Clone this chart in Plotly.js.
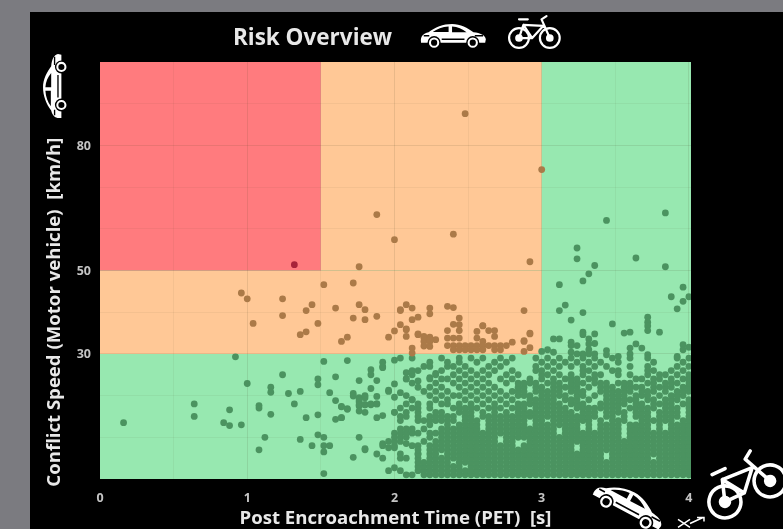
<!DOCTYPE html>
<html><head><meta charset="utf-8">
<script src="https://cdn.plot.ly/plotly-3.0.1.min.js"></script>
<style>html,body{margin:0;padding:0;background:#7b7b80;width:783px;height:529px;overflow:hidden}
#chart{position:absolute;left:30px;top:12px;width:753px;height:517px;filter:blur(0.6px)}</style>
</head><body><div id="chart"></div>
<script>
const chartTitle = "Risk Overview";
const xTitle = "Post Encroachment Time (PET)&nbsp;&nbsp;[s]";
const yTitle = "Conflict Speed (Motor vehicle)&nbsp;&nbsp;[km/h]";
const xTicks = [0,1,2,3,4];
const yTicks = [30,50,80];

const redPet = [1.32];
const redSpeed = [51.4];

const orangePet = [0.96,1.00,1.04,1.24,1.24,1.36,1.40,1.40,1.44,1.48,1.52,1.60,1.64,1.68,1.72,1.72,1.76,1.80,1.80,1.88,1.88,1.96,2.00,2.04,2.04,2.08,2.08,2.12,2.12,2.16,2.24,2.24,2.36,2.40,2.44,2.44,2.40,2.60,2.36,2.44,2.08,2.08,2.16,2.20,2.24,2.28,2.20,2.24,2.20,2.24,2.12,2.12,2.48,2.00,2.40,1.76,2.92,2.88,2.92,2.88,2.92,2.88,3.00,2.68,2.60,2.56,2.56,2.64,2.68,2.60,2.44,2.40,2.36,2.36,2.40,2.44,2.48,2.52,2.56,2.60,2.64,2.68,2.72,2.40,2.44,2.48,2.52,2.56,2.60,2.68,2.72,2.76,2.80,2.88,2.92,2.16,2.20,2.24,2.04];
const orangeSpeed = [44.6,43.2,37.3,43.2,39.2,34.6,35.3,40.4,41.8,37.3,46.6,41,33,34,47,38.6,41.8,40.6,38.2,39,63.4,34,35.5,37,40.4,41.8,36,41,38.2,38.8,41,39.6,41.4,41.1,38.6,37,37.1,36.7,35.6,35.6,35.8,34.2,34.6,34.2,34,33.4,33,33,31.9,31.8,31.4,30.2,87.6,57.4,58.7,50.9,52.1,40.4,34.8,33,31.5,30.6,74.2,35.6,36.8,35.4,33.8,35.6,34.2,33,33.8,33.8,33.8,32,32,32,32,32,32,32,32,32,32,31,31,31,31,31,31,31,31,32,32.8,33.2,35,34.8,33.9,33.4,40.6];

const greenPet = [0.16,0.64,0.64,0.84,0.88,0.96,0.88,0.92,1.00,1.08,1.08,1.16,1.12,1.08,1.16,1.16,1.24,1.28,1.36,1.32,1.36,1.40,1.44,1.48,1.48,1.48,1.48,1.52,1.52,1.52,1.56,1.52,1.52,1.56,1.60,1.60,1.60,1.64,1.64,1.68,1.68,1.72,1.72,1.76,1.76,1.76,1.76,1.76,1.80,1.80,1.80,1.80,1.84,1.84,1.84,1.84,1.88,1.88,1.88,1.88,1.92,1.92,1.92,1.92,1.96,1.64,1.68,1.64,1.72,1.76,1.76,1.80,1.76,1.80,1.84,1.88,1.80,1.88,1.92,1.92,1.96,2.00,2.00,2.04,2.08,1.96,2.00,1.92,1.96,2.00,1.96,2.00,2.00,2.00,2.00,2.08,2.12,2.12,2.16,2.04,2.08,2.12,2.24,2.28,2.00,2.00,2.08,2.16,2.16,3.24,3.24,3.36,3.32,3.28,3.12,3.16,3.12,3.28,3.20,3.28,3.28,3.36,3.32,3.08,3.12,3.20,3.20,3.24,3.36,3.32,3.32,3.20,3.24,3.04,3.00,3.08,3.44,3.44,3.48,3.64,3.84,3.60,3.56,3.80,3.72,3.72,3.72,3.72,3.96,3.88,4.00,3.96,3.92,3.64,3.60,3.60,3.68,3.72,3.96,3.96,4.00,3.52,3.92,3.44,3.84,3.28,3.32,3.36];
const greenSpeed = [13.5,18,15,13.5,12.8,13,16.6,29.3,22.9,17,7,15.5,10,17.6,22,20.8,25,20.5,21,18,9.5,14.7,8,15.4,10.6,24,22.6,28.2,10,8,8,6.5,1.3,20.7,24.5,18.8,14.3,14.7,17.4,16.9,28.4,20.5,5.2,23.6,10,19.5,18.5,17.5,19.5,17.8,16,7,26.2,25,21.7,17.8,23.6,19.8,18,14.7,15.2,28,26.7,8.5,21,17.3,16.7,14.7,19.9,19,17.8,20,16.3,17.8,18,18,7.3,6,5,8,7.5,7.5,22.8,20.7,24,21.3,28.5,27,2,2.7,9,8,9,19.6,16,25.5,25,19,23.5,12,11,11,24.3,25.3,11,10,8.5,8,6,55.4,52.8,51.2,49.2,47.5,46.6,41.7,40.4,39.9,38.1,35.2,34.6,34.8,33.6,33.6,33.6,32.8,32,32,32.5,32.4,31,30.4,30,31,30.6,30.4,30.8,29.8,37.2,53,50.9,35.2,35,35.2,38.8,37.6,36.7,35.6,46,43.7,43.7,42.6,40.8,32.4,31.4,30,31.4,29.8,32.2,31,31.6,29.4,29.4,62,63.8,30,30,30];

const denseSpeeds = [1,2,3,4,5,6,7,8,9,10,11,12,13,14,15,16,17,18,19,20,21,22,23,24,25,26,27,28,29];
const densePets = [
[2.08,2.12,2.20,2.24,2.28,2.32,2.36,2.40,2.44,2.48,2.52,2.56,2.60,2.64,2.68,2.72,2.76,2.80,2.84,2.88,2.92,2.96,3.00,3.04,3.08,3.12,3.16,3.20,3.24,3.28,3.32,3.36,3.40,3.44,3.48,3.52,3.56,3.60,3.64,3.68,3.72,3.76,3.80,3.84,3.88,3.92,3.96,4.00],
[2.04,2.16,2.20,2.24,2.28,2.32,2.36,2.40,2.44,2.48,2.52,2.56,2.60,2.64,2.68,2.72,2.76,2.80,2.84,2.88,2.92,2.96,3.00,3.04,3.08,3.12,3.16,3.20,3.24,3.28,3.32,3.36,3.40,3.44,3.48,3.52,3.56,3.60,3.64,3.68,3.72,3.76,3.80,3.84,3.88,3.92,3.96,4.00],
[2.16,2.20,2.24,2.28,2.32,2.36,2.40,2.44,2.52,2.56,2.60,2.64,2.68,2.72,2.76,2.80,2.84,2.88,2.92,2.96,3.00,3.04,3.08,3.12,3.16,3.20,3.24,3.28,3.32,3.36,3.40,3.44,3.48,3.52,3.56,3.60,3.64,3.68,3.72,3.76,3.80,3.84,3.88,3.92,3.96,4.00],
[2.16,2.20,2.24,2.28,2.32,2.36,2.44,2.48,2.52,2.56,2.60,2.64,2.68,2.72,2.76,2.80,2.84,2.88,2.92,2.96,3.00,3.04,3.08,3.12,3.16,3.20,3.24,3.28,3.32,3.36,3.40,3.44,3.48,3.52,3.56,3.60,3.64,3.68,3.72,3.76,3.80,3.84,3.88,3.92,3.96,4.00],
[2.04,2.08,2.16,2.24,2.28,2.32,2.36,2.40,2.44,2.48,2.52,2.56,2.60,2.64,2.68,2.72,2.76,2.80,2.84,2.88,2.92,2.96,3.00,3.04,3.08,3.12,3.16,3.20,3.24,3.28,3.32,3.36,3.40,3.48,3.52,3.56,3.60,3.64,3.68,3.72,3.80,3.84,3.88,3.92,3.96,4.00],
[2.04,2.16,2.24,2.28,2.36,2.40,2.44,2.48,2.52,2.56,2.60,2.64,2.68,2.72,2.76,2.80,2.84,2.88,2.92,2.96,3.00,3.04,3.08,3.12,3.16,3.20,3.24,3.28,3.32,3.36,3.40,3.48,3.52,3.56,3.60,3.64,3.68,3.72,3.76,3.80,3.84,3.88,3.92,3.96,4.00],
[2.16,2.24,2.28,2.32,2.36,2.40,2.44,2.48,2.52,2.56,2.60,2.64,2.68,2.72,2.76,2.80,2.84,2.88,2.92,2.96,3.00,3.04,3.08,3.12,3.16,3.20,3.28,3.32,3.36,3.40,3.44,3.48,3.52,3.56,3.60,3.64,3.68,3.72,3.76,3.80,3.84,3.88,3.92,3.96,4.00],
[2.12,2.24,2.28,2.32,2.36,2.40,2.44,2.48,2.52,2.56,2.60,2.64,2.68,2.72,2.76,2.80,2.88,2.92,2.96,3.00,3.04,3.08,3.12,3.16,3.20,3.28,3.32,3.36,3.40,3.44,3.48,3.52,3.56,3.60,3.64,3.68,3.72,3.76,3.80,3.84,3.88,3.92,3.96,4.00],
[2.04,2.20,2.28,2.32,2.36,2.40,2.44,2.48,2.52,2.56,2.60,2.64,2.68,2.76,2.80,2.92,2.96,3.00,3.04,3.08,3.12,3.16,3.20,3.24,3.28,3.32,3.36,3.40,3.44,3.48,3.52,3.56,3.60,3.64,3.68,3.72,3.76,3.80,3.84,3.88,3.92,3.96,4.00],
[2.04,2.08,2.24,2.32,2.36,2.40,2.44,2.48,2.52,2.56,2.60,2.64,2.68,2.76,2.80,2.84,2.88,2.92,2.96,3.00,3.04,3.08,3.12,3.16,3.20,3.24,3.28,3.32,3.36,3.40,3.44,3.48,3.52,3.60,3.64,3.68,3.72,3.76,3.80,3.84,3.88,3.92,3.96,4.00],
[2.04,2.08,2.16,2.24,2.28,2.32,2.36,2.40,2.44,2.48,2.52,2.56,2.60,2.64,2.68,2.72,2.76,2.80,2.84,2.88,2.92,2.96,3.00,3.04,3.08,3.16,3.20,3.24,3.28,3.32,3.36,3.40,3.44,3.48,3.52,3.60,3.64,3.68,3.72,3.76,3.80,3.84,3.88,3.92,3.96,4.00],
[2.08,2.12,2.20,2.32,2.36,2.40,2.44,2.48,2.52,2.56,2.64,2.68,2.72,2.76,2.80,2.84,2.88,2.92,2.96,3.00,3.04,3.08,3.16,3.20,3.24,3.32,3.40,3.44,3.48,3.52,3.60,3.64,3.68,3.72,3.80,3.88,3.92,3.96,4.00],
[2.24,2.36,2.44,2.48,2.52,2.56,2.64,2.68,2.72,2.76,2.80,2.84,2.88,2.96,3.00,3.04,3.08,3.12,3.16,3.20,3.24,3.32,3.40,3.44,3.48,3.52,3.60,3.64,3.68,3.72,3.80,3.88,3.92,3.96,4.00],
[2.04,2.16,2.20,2.24,2.28,2.32,2.36,2.40,2.48,2.52,2.56,2.64,2.68,2.72,2.76,2.80,2.84,2.88,2.96,3.00,3.08,3.12,3.16,3.20,3.24,3.28,3.32,3.40,3.48,3.52,3.56,3.68,3.72,3.76,3.80,3.84,3.88,3.96,4.00],
[2.04,2.08,2.16,2.24,2.28,2.32,2.36,2.40,2.48,2.52,2.60,2.64,2.68,2.72,2.76,2.80,2.84,2.88,2.92,2.96,3.00,3.04,3.08,3.12,3.16,3.20,3.24,3.28,3.32,3.36,3.44,3.48,3.56,3.64,3.68,3.72,3.80,3.84,3.88,3.92,4.00],
[2.00,2.08,2.16,2.28,2.32,2.44,2.48,2.52,2.60,2.68,2.76,2.84,2.88,2.92,2.96,3.00,3.04,3.08,3.12,3.16,3.20,3.28,3.32,3.36,3.44,3.48,3.52,3.56,3.64,3.68,3.72,3.80,3.84,3.88,3.92,4.00],
[2.04,2.12,2.16,2.24,2.40,2.44,2.48,2.52,2.56,2.64,2.68,2.72,2.80,2.84,2.88,2.96,3.00,3.04,3.08,3.12,3.16,3.24,3.28,3.32,3.36,3.40,3.44,3.48,3.52,3.60,3.64,3.68,3.72,3.76,3.84,3.88,3.92,4.00],
[2.08,2.16,2.24,2.32,2.36,2.44,2.52,2.60,2.68,2.76,2.84,2.88,2.92,2.96,3.00,3.04,3.08,3.12,3.20,3.24,3.28,3.40,3.44,3.48,3.52,3.56,3.64,3.68,3.76,3.80,3.84,3.88,3.96,4.00],
[2.12,2.28,2.36,2.48,2.56,2.64,2.72,2.80,2.92,2.96,3.00,3.04,3.08,3.16,3.20,3.24,3.32,3.44,3.48,3.52,3.56,3.60,3.64,3.72,3.76,3.84,3.88,3.92,4.00],
[2.08,2.24,2.32,2.40,2.44,2.52,2.60,2.68,2.76,2.84,2.88,2.92,3.00,3.04,3.08,3.12,3.16,3.24,3.28,3.36,3.44,3.48,3.52,3.56,3.64,3.68,3.72,3.80,3.88,3.92,3.96],
[2.20,2.28,2.36,2.48,2.56,2.64,2.72,2.80,2.84,2.88,2.96,3.00,3.04,3.08,3.12,3.20,3.24,3.28,3.40,3.44,3.48,3.52,3.56,3.60,3.68,3.72,3.76,3.84,3.92,3.96,4.00],
[2.16,2.24,2.32,2.44,2.52,2.60,2.68,2.84,2.88,2.96,3.00,3.08,3.12,3.16,3.20,3.24,3.32,3.40,3.44,3.48,3.56,3.60,3.64,3.68,3.76,3.80,3.84,3.88,3.96,4.00],
[2.12,2.28,2.40,2.48,2.56,2.64,2.76,2.84,2.88,2.92,2.96,3.04,3.08,3.12,3.20,3.24,3.28,3.36,3.40,3.44,3.52,3.56,3.60,3.72,3.76,3.84,3.88,3.92,4.00],
[2.08,2.24,2.32,2.36,2.44,2.52,2.60,2.72,2.80,2.92,3.00,3.08,3.16,3.20,3.24,3.32,3.36,3.64,3.68,3.76,3.80,3.88,3.96,4.00],
[2.28,2.40,2.48,2.56,2.64,2.76,2.84,3.00,3.04,3.12,3.20,3.28,3.36,3.40,3.52,3.60,3.72,3.80,3.84,3.92,4.00],
[2.12,2.16,2.32,2.44,2.52,2.60,2.68,2.80,2.96,3.00,3.08,3.28,3.32,3.48,3.52,3.72,3.76,3.88,3.96],
[2.20,2.24,2.36,2.40,2.48,2.64,2.72,2.96,3.04,3.12,3.20,3.28,3.36,3.44,3.60,3.72,3.92,4.00],
[2.24,2.36,2.44,2.56,2.68,2.76,3.00,3.08,3.16,3.24,3.32,3.40,3.52,3.76,3.96],
[2.04,2.12,2.32,2.44,2.52,2.60,2.72,2.80,2.96,3.04,3.12,3.20,3.28,3.36,3.48,3.60,3.72,3.92,4.00]
];

const x = [], y = [];
densePets.forEach((row, i) => row.forEach(p => { x.push(p); y.push(denseSpeeds[i]); }));
const allGreenX = greenPet.concat(x), allGreenY = greenSpeed.concat(y);

const uri = s => "data:image/svg+xml;base64," + btoa(s);
const carArt = `<path d="M3 30C2 22 6 18 14 16C23 9 35 4 48 4C60 4 71 10 79 16C89 17 96 20 97 26L96 31H3Z" fill="#fff"/>
<path d="M20 15.5C26 11 34 8 43 7.5V15.5ZM48 7.5C56 8 63 11 69 16L48 16Z" fill="#000"/>
<path d="M7 21H15M81 21H93M33 26H66" stroke="#000" stroke-width="2"/>
<circle cx="22" cy="31" r="9.5" fill="#000"/><circle cx="22" cy="31" r="6" fill="none" stroke="#fff" stroke-width="3"/>
<circle cx="78" cy="31" r="9.5" fill="#000"/><circle cx="78" cy="31" r="6" fill="none" stroke="#fff" stroke-width="3"/>`;
const bikeArt = `<g fill="none" stroke="#fff" stroke-linecap="round" stroke-linejoin="round">
<circle cx="22" cy="48" r="18" stroke-width="4"/><circle cx="78" cy="48" r="18" stroke-width="4"/>
<path d="M22 48L46 48L66 26L30 24ZM46 48L30 24M78 48L63 14L72 8M22 14H38" stroke-width="4"/></g>
<circle cx="22" cy="48" r="7" fill="#fff"/><circle cx="78" cy="48" r="7" fill="#fff"/>`;
const carSvg = rot => uri(`<svg xmlns="http://www.w3.org/2000/svg" viewBox="-60 -60 220 160"><g transform="rotate(${rot} 50 20)">${carArt}</g></svg>`);
const bikeSvg = rot => uri(`<svg xmlns="http://www.w3.org/2000/svg" viewBox="-30 -40 160 160"><g transform="rotate(${rot} 50 40)">${bikeArt}</g></svg>`);
const crashSvg = uri(`<svg xmlns="http://www.w3.org/2000/svg" viewBox="0 0 30 14"><path d="M2 4L14 12M2 12L14 4M14 8L27 2M21 2H28V6" fill="none" stroke="#fff" stroke-width="1.5"/></svg>`);
const px = v => (v-100)/591, py = v => (479.5-v)/417.5;
const icon = (source,l,t,w,h) => ({source,xref:"paper",yref:"paper",x:px(l),y:py(t),sizex:w/591,sizey:h/417.5,xanchor:"left",yanchor:"top",sizing:"stretch",layer:"above"});

const zone = (x0,x1,y0,y1,color) => ({type:"rect",xref:"x",yref:"y",x0,x1,y0,y1,fillcolor:color,line:{width:0},layer:"below"});
const red="#ff7b7e", orange="#ffc896", green="#97e8b0";
const marker = c => ({size:6.8,color:c,line:{width:0},opacity:1});
const gridCol = "rgba(60,60,40,0.06)";

Plotly.newPlot("chart",[
 {type:"scatter",mode:"markers",name:"Low",x:allGreenX,y:allGreenY,marker:marker("#4b9360"),hoverinfo:"x+y"},
 {type:"scatter",mode:"markers",name:"Medium",x:orangePet,y:orangeSpeed,marker:marker("#ab7a48"),hoverinfo:"x+y"},
 {type:"scatter",mode:"markers",name:"High",x:redPet,y:redSpeed,marker:marker("#a8233a"),hoverinfo:"x+y"}
],{
 width:753,height:517,autosize:false,showlegend:false,
 paper_bgcolor:"#000",plot_bgcolor:"#97e8b0",
 margin:{l:70,r:92,t:50,b:49.5,pad:0},
 title:{text:"<b>"+chartTitle+"</b>",x:px(312.5),xanchor:"center",xref:"paper",y:1-(37-12)/517,yanchor:"middle",font:{family:"Open Sans, sans-serif",size:22.5,color:"#e8e8e8"}},
 xaxis:{range:[0,4.014],tickvals:xTicks,ticktext:xTicks.map(String),ticks:"",showline:false,zeroline:false,showgrid:true,gridcolor:gridCol,gridwidth:1,
   minor:{dtick:0.5,showgrid:true,gridcolor:gridCol,gridwidth:1,ticks:""},
   tickfont:{family:"Open Sans, sans-serif",size:12.5,color:"#c4c4c4",weight:700},ticklabelstandoff:9,
   title:{text:"<b>"+xTitle+"</b>",standoff:9,font:{family:"Open Sans, sans-serif",size:18.6,color:"#e8e8e8"}}},
 yaxis:{range:[0,100],tickvals:yTicks,ticktext:yTicks.map(String),ticks:"",showline:false,zeroline:false,showgrid:true,gridcolor:gridCol,gridwidth:1,
   minor:{dtick:10,showgrid:true,gridcolor:gridCol,gridwidth:1,ticks:""},
   tickfont:{family:"Open Sans, sans-serif",size:12.5,color:"#c4c4c4",weight:700},ticklabelstandoff:8},
 shapes:[zone(0,4.014,0,30,green),zone(3,4.014,30,100,green),zone(0,3,30,50,orange),zone(1.5,3,50,100,orange),zone(0,1.5,50,100,red)],
 annotations:[{xref:"paper",yref:"paper",x:px(53),y:py(313),text:"<b>"+yTitle+"</b>",textangle:-90,showarrow:false,xanchor:"center",yanchor:"middle",font:{family:"Open Sans, sans-serif",size:18.6,color:"#e8e8e8"}}],
 images:[
  icon(carSvg(0),421-63*0.69,24-64*0.69,220*0.69,160*0.69),
  icon(bikeSvg(0),490.4,-10.4,160*0.55,160*0.55),
  icon(carSvg(-90),-20.9,31.6,149.6,108.8),
  icon(carSvg(28),542,441,176,128),
  icon(bikeSvg(-25),673.3,414.3,142.4,142.4),
  icon(crashSvg,676,516,30,14)
 ]
},{displayModeBar:false,staticPlot:true});
</script></body></html>
